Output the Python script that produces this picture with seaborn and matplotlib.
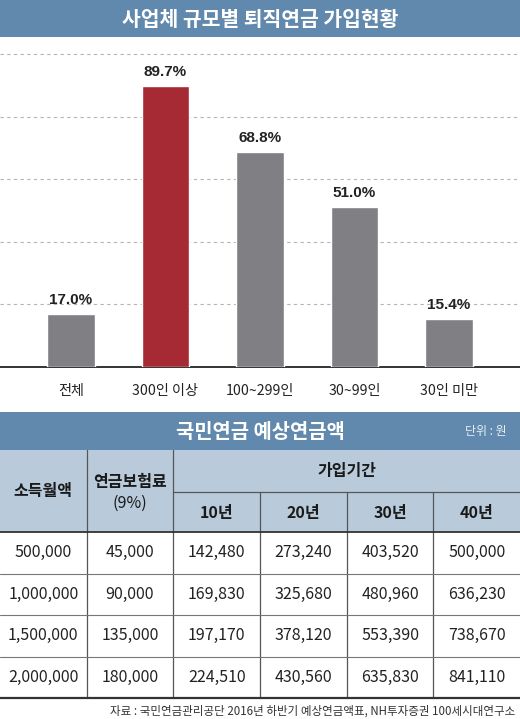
import matplotlib
matplotlib.use("Agg")
import matplotlib.pyplot as plt
import pandas as pd
import seaborn as sns
from matplotlib.patches import Rectangle

# ---- data: retirement pension enrollment by company size
categories = ["전체", "300인 이상", "100~299인", "30~99인", "30인 미만"]
rates = [17.0, 89.7, 68.8, 51.0, 15.4]
highlight = "300인 이상"

# ---- data: expected national pension table
incomes = [500000, 1000000, 1500000, 2000000]
premiums = [45000, 90000, 135000, 180000]
periods = ["10년", "20년", "30년", "40년"]
pension_10y = [142480, 169830, 197170, 224510]
pension_20y = [273240, 325680, 378120, 430560]
pension_30y = [403520, 480960, 553390, 635830]
pension_40y = [500000, 636230, 738670, 841110]

chart_title = "사업체 규모별 퇴직연금 가입현황"
table_title = "국민연금 예상연금액"
unit_note = "단위 : 원"
source_note = "자료 : 국민연금관리공단 2016년 하반기 예상연금액표, NH투자증권 100세시대연구소"

BLUE = "#6189ad"
LIGHT = "#b9cbdb"
RED = "#a52a33"
GRAY = "#808084"
LINE = "#555555"

sns.set_style("white")
plt.rcParams['font.family'] = ['Noto Sans CJK KR', 'DejaVu Sans']
LABEL_FONT = ['Liberation Sans', 'Noto Sans CJK KR']

W, H = 520, 719
fig = plt.figure(figsize=(W / 100, H / 100), dpi=100)

# ---- bar chart
base_y, top_y = 367, 40
ax = fig.add_axes([0, (H - base_y) / H, 1, (base_y - top_y) / H])
df = pd.DataFrame({"cat": categories, "rate": rates})
palette = {c: (RED if c == highlight else GRAY) for c in categories}
sns.barplot(data=df, x="cat", y="rate", hue="cat", palette=palette,
            width=0.5, saturation=1, legend=False, ax=ax, zorder=3)
ax.set_xlim(-0.75, 4.75)
ax.set_ylim(0, (base_y - top_y) / 3.13)
ax.set_yticks([20, 40, 60, 80, 100])
ax.yaxis.grid(True, linestyle=(0, (3, 3)), color="#b5b5b5", linewidth=0.8)
ax.set_axisbelow(True)
for s in ["top", "right", "left"]:
    ax.spines[s].set_visible(False)
ax.spines["bottom"].set_color("#333333")
ax.spines["bottom"].set_linewidth(1.4)
ax.tick_params(axis="y", left=False, labelleft=False)
ax.tick_params(axis="x", length=0, pad=12, labelsize=10.2, labelcolor="#222222")
ax.set_xlabel("")
ax.set_ylabel("")
for cont in ax.containers:
    ax.bar_label(cont, fmt="%.1f%%", padding=5, fontsize=11,
                 fontweight="bold", color="#222222", family=LABEL_FONT)

# ---- overlay for banners and table (pixel coordinates)
ov = fig.add_axes([0, 0, 1, 1])
ov.set_xlim(0, W)
ov.set_ylim(H, 0)
ov.axis("off")
ov.patch.set_alpha(0)

ov.add_patch(Rectangle((0, 0), W, 37, color=BLUE, lw=0))
ov.text(W / 2, 19, chart_title, color="white", fontsize=14.7,
        fontweight="bold", ha="center", va="center")

ov.add_patch(Rectangle((0, 412), W, 38, color=BLUE, lw=0))
ov.text(W / 2, 431, table_title, color="white", fontsize=14.3,
        fontweight="bold", ha="center", va="center")
ov.text(507, 432, unit_note, color="#e8eef4", fontsize=8.6,
        ha="right", va="center")

# header block
col_w = W / 6
hdr = dict(fontsize=11.5, fontweight="bold", ha="center", va="center",
           color="#1a1a1a")
ov.add_patch(Rectangle((0, 450), W, 82, color=LIGHT, lw=0))
ov.text(col_w / 2, 491, "소득월액", **hdr)
ov.text(col_w * 1.5, 482, "연금보험료", **hdr)
ov.text(col_w * 1.5, 503, "(9%)", fontsize=11.5, ha="center", va="center",
        color="#1a1a1a")
ov.text(col_w * 4, 471, "가입기간", **hdr)
for i, p in enumerate(periods):
    ov.text(col_w * (2.5 + i), 513, p, **hdr)
ov.plot([col_w * 2, W], [492, 492], color=LINE, lw=0.9)
for k in (1, 2):
    ov.plot([col_w * k, col_w * k], [450, 698], color=LINE, lw=0.9)
for k in (3, 4, 5):
    ov.plot([col_w * k, col_w * k], [492, 698], color=LINE, lw=0.9)
ov.plot([0, W], [532, 532], color="#333333", lw=1.3)

# data rows
row_top, row_h = 532, 41.5
cols = [incomes, premiums, pension_10y, pension_20y, pension_30y, pension_40y]
for r in range(len(incomes)):
    yc = row_top + row_h * (r + 0.5)
    for c, series in enumerate(cols):
        ov.text(col_w * (c + 0.5), yc, f"{series[r]:,}", fontsize=11.5,
                fontweight="light", ha="center", va="center", color="#222222")
    if r < len(incomes) - 1:
        y = row_top + row_h * (r + 1)
        ov.plot([0, W], [y, y], color="#777777", lw=0.8)
ov.plot([0, W], [698, 698], color="#333333", lw=1.6)

ov.text(515, 711, source_note, fontsize=8.3, ha="right", va="center",
        color="#333333")

fig.savefig("out.png", dpi=100)
